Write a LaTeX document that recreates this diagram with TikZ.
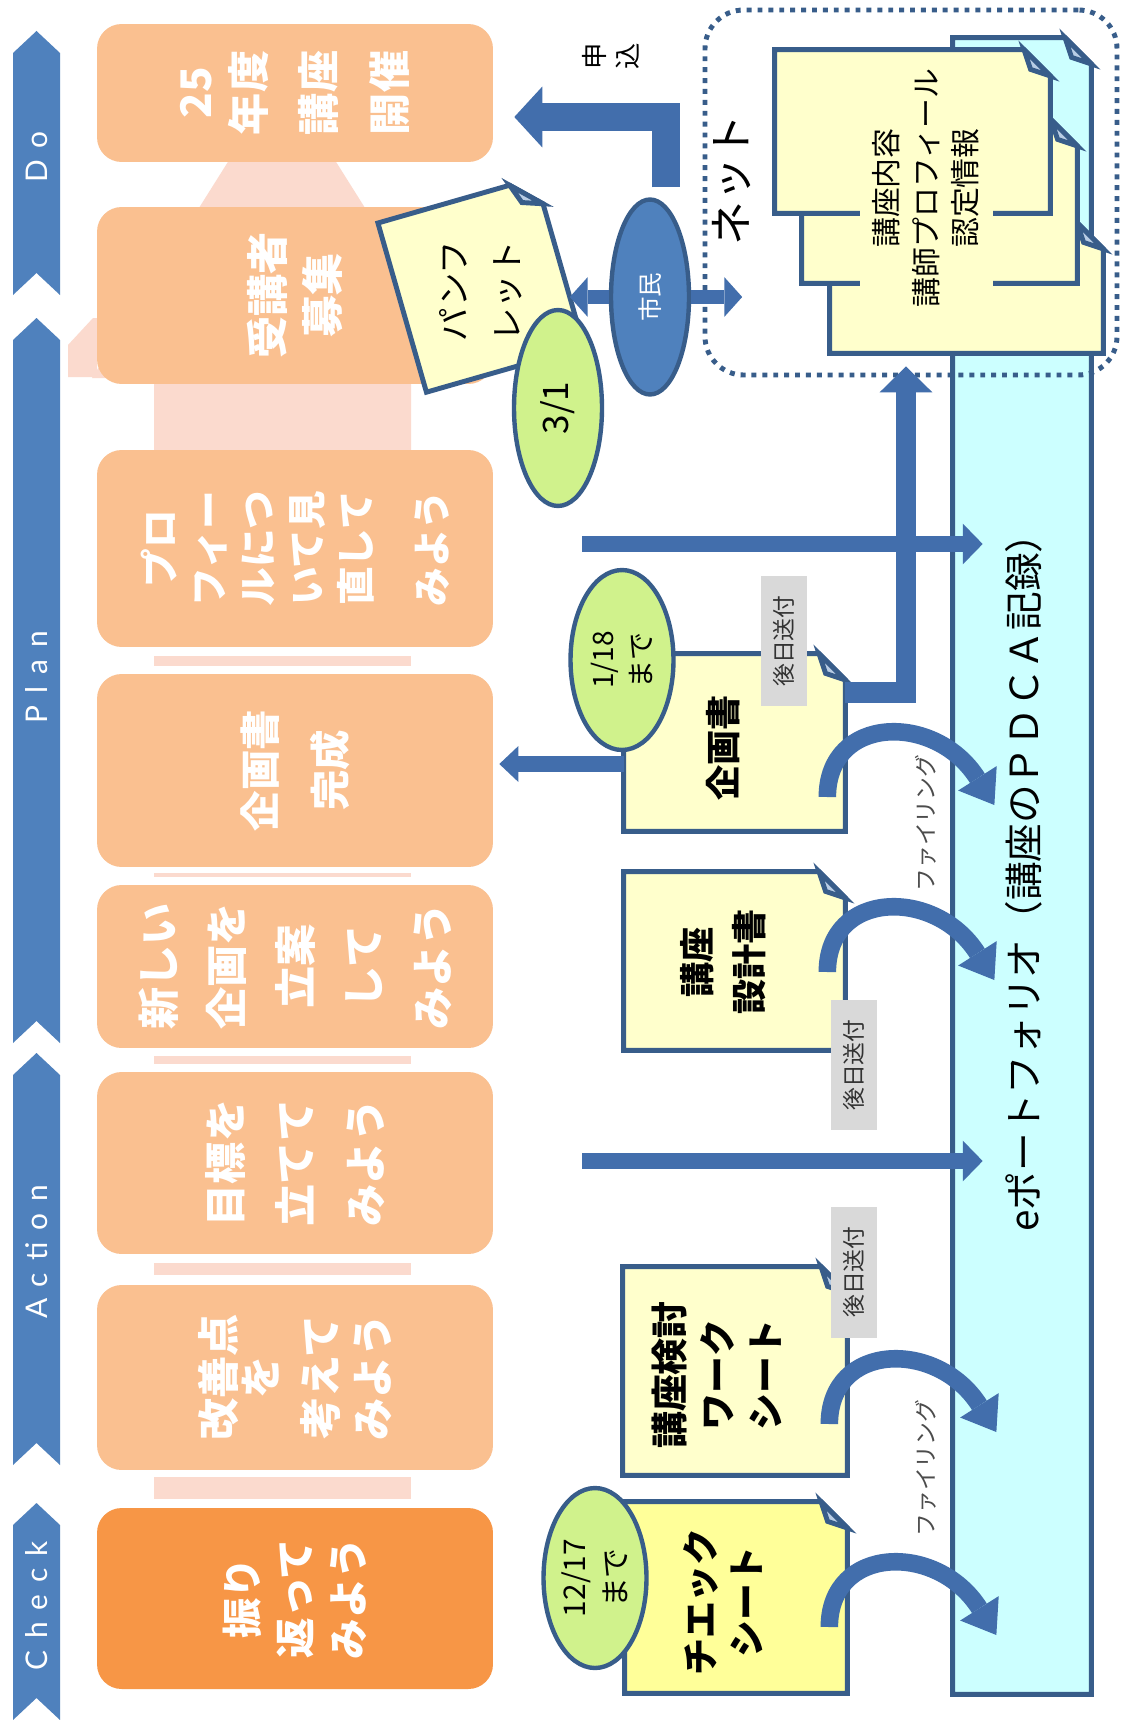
\documentclass[tikz,border=0pt]{standalone}
\usepackage{fontspec}
\newfontfamily\jp{Noto Sans CJK JP}
\newfontfamily\phasefont{Lato}[LetterSpace=40]
\usetikzlibrary{shapes.geometric, arrows.meta, fit, calc}

\definecolor{bandblue}{RGB}{79,129,189}
\definecolor{lineblue}{RGB}{56,93,138}
\definecolor{arrowblue}{RGB}{66,110,172}
\definecolor{boxorange}{RGB}{250,192,144}
\definecolor{checkorange}{RGB}{247,150,70}
\definecolor{palepink}{RGB}{251,218,206}
\definecolor{paperyellow}{RGB}{255,255,204}
\definecolor{sheetyellow}{RGB}{255,255,153}
\definecolor{datagreen}{RGB}{208,242,140}
\definecolor{portcyan}{RGB}{204,255,255}
\definecolor{flapblue}{RGB}{185,205,229}
\definecolor{labelgray}{RGB}{217,217,217}

\newlength\foldsize
\setlength\foldsize{15pt}

\tikzset{
    every node/.style={font=\jp},
    obox/.style={fill=boxorange, rounded corners=14pt, rotate=90, minimum height=7.92cm, inner sep=0pt, text=white, align=center},
    phase/.style={rotate=90, text=white, font=\phasefont\fontsize{17}{20}\selectfont},
    paperline/.style={draw=lineblue, line width=2.8pt, line join=miter},
    dateoval/.style={ellipse, draw=lineblue, line width=2.5pt, fill=datagreen, rotate=90, align=center, inner sep=0pt},
    latertag/.style={fill=labelgray, rotate=90, minimum width=2.62cm, minimum height=0.92cm, inner sep=0pt, text=black!80, font=\jp\fontsize{13}{15}\selectfont},
    papertext/.style={rotate=90, align=center},
    fatarrow/.style n args={3}{draw=arrowblue, line width=#1, line join=miter, arrows={-Triangle[width=#2, length=#3, line width=0pt]}},
    curvearrow/.style={draw=arrowblue, line width=10pt, arrows={-Triangle[width=26pt, length=18pt, line width=0pt]}},
    filing/.style={rotate=90, text=black!70, font=\jp\fontsize{13}{15}\selectfont},
    netbox/.style={draw=lineblue, line width=2.8pt, dash pattern=on 2.8pt off 3.4pt, rounded corners=22pt, inner sep=0pt},
}

% paper with a folded corner: name, corner, corner, fill
\newcommand{\foldpaper}[4]{%
  \node[fit={#2 #3}, inner sep=0pt] (#1) {};
  \draw[paperline, fill=#4] (#1.north west) -- ([xshift=-\foldsize]#1.north east) -- ([yshift=-\foldsize]#1.north east)
     -- (#1.south east) -- (#1.south west) -- cycle;
  \draw[paperline, fill=flapblue] ([xshift=-\foldsize]#1.north east) -- ([yshift=-\foldsize]#1.north east)
     -- ([xshift=-0.75*\foldsize, yshift=-0.75*\foldsize]#1.north east) -- cycle;
}

% filing arrow from a sheet into the portfolio
\newcommand{\filingarrow}[2]{%
  \draw[curvearrow, shift={(#1 |- 0,#2)}] (-18,0) .. controls (-18,-82) and (90,-85) .. (149,8);
}

\begin{document}
\begin{tikzpicture}[x=0.02cm, y=-0.02cm]
\useasboundingbox[fill=white] (0,0) rectangle (1125,1720);

% PDCA band
\foreach \ya/\yb/\yc/\lbl in {31/295/157/Do, 318/1043/677/Plan, 1053/1465/1252/Action, 1503/1720/1606/Check}{
  \fill[bandblue] (13,\ya+22) -- (36.5,\ya) -- (60,\ya+22) -- (60,\yb) -- (36.5,\yb-22) -- (13,\yb) -- cycle;
  \node[phase] (phase-\lbl) at (36.5,\yc) {\lbl};
}

% pale connectors behind the steps
\fill[palepink] (154,455) -- (154,378) -- (92,378) -- (282,76) -- (472,378) -- (411,378) -- (411,455) -- cycle;
\fill[palepink] (68,377) -- (68,345) -- (93,318) -- (97,318) -- (97,377) -- cycle;
\foreach \ya/\yb in {656/666, 873/877, 1056/1064, 1263/1275, 1477/1499}{
  \fill[palepink] (154,\ya) rectangle (411,\yb);
}

% steps
\foreach \n/\yc/\h/\fs/\bs/\col/\txt in {
  1/93/2.76cm/24/40/boxorange/{25\\[-10pt]年度\\講座\\開催},
  2/295.5/3.54cm/24/31/boxorange/{受講者\\募集},
  3/548.5/3.94cm/22/28/boxorange/{プロ\\フィー\\ルにつ\\いて見\\直して\\[15pt]みよう},
  4/770.5/3.86cm/23/40/boxorange/{企画書\\完成},
  5/966.5/3.26cm/24/39/boxorange/{新しい\\企画を\\立案\\して\\みよう},
  6/1163/3.64cm/24/40/boxorange/{目標を\\立てて\\みよう},
  7/1377.5/3.7cm/24/30/boxorange/{改善点\\[-6pt]を\\[4pt]考えて\\みよう},
  8/1598.5/3.62cm/23/30/checkorange/{振り\\返って\\みよう}}{
  \node[obox, fill=\col, minimum width=\h, font=\jp\bfseries\fontsize{\fs}{\bs}\selectfont] (box\n) at (295,\yc) {\txt};
}

% e-portfolio and web pages
\foldpaper{eport}{(953,38)}{(1091,1694)}{portcyan}
\node[rotate=90, font=\jp\fontsize{22}{26}\selectfont] (eportlabel) at (1024,873) {eポートフォリオ（講座のＰＤＣＡ記録）};

\foldpaper{web3}{(830,223)}{(1103,353)}{paperyellow}
\foldpaper{web2}{(802,120)}{(1077,283)}{paperyellow}
\foldpaper{web1}{(775,50)}{(1050,213)}{paperyellow}
\node[rotate=90, fill=paperyellow, minimum width=5.28cm, minimum height=2.66cm, align=center,
      font=\jp\fontsize{17}{22.5}\selectfont] (webtext) at (926,188) {講座内容\\講師プロフィール\\認定情報};

\node[netbox, fit={(705,10) (1117,375)}] (net) {};
\node[rotate=90, font=\jp\fontsize{25}{28}\selectfont] (netlabel) at (732,180) {ネット};
\node[rotate=90, align=center, font=\jp\fontsize{15}{19}\selectfont] (apply) at (611,56) {申\\込};

% pamphlet
\begin{scope}[shift={(481,285)}, rotate=16]
  \draw[paperline, fill=paperyellow] (-82,-88) -- (55,-88) -- (82,-61) -- (82,88) -- (-82,88) -- cycle;
  \draw[paperline, fill=flapblue] (55,-88) -- (82,-61) -- (62,-68) -- cycle;
  \node[rotate=90, align=center, font=\jp\fontsize{19}{30}\selectfont] (pamph) at (-2,6) {パンフ\\レット};
\end{scope}

\node[dateoval, minimum width=3.92cm, minimum height=1.76cm, font=\jp\fontsize{20}{22}\selectfont] (d31) at (558,408) {3/1};

% citizens
\node[ellipse, fill=bandblue, draw=lineblue, line width=2.5pt, rotate=90, minimum width=3.9cm, minimum height=1.56cm,
      inner sep=0pt, text=white, font=\jp\fontsize{14}{16}\selectfont] (shimin) at (650,297) {市民};
\draw[fatarrow={7.9pt}{22.7pt}{10.2pt}] (shimin.north) -- ($(shimin.north)+(-39,0)$);
\draw[fatarrow={7.9pt}{22.7pt}{10.2pt}] (shimin.south) -- ($(shimin.south)+(51,0)$);
\draw[fatarrow={16.4pt}{34.6pt}{15.9pt}] ($(shimin.east)+(16,-10)$) |- ($(box1.south)+(21,24)$);

% sheets
\foldpaper{kikaku}{(624,654)}{(845,831)}{paperyellow}
\foldpaper{sekkei}{(624,872)}{(845,1050)}{paperyellow}
\foldpaper{kento}{(623,1267)}{(847,1475)}{paperyellow}
\foldpaper{check}{(625,1502)}{(847,1693)}{sheetyellow}
\node[papertext, font=\jp\bfseries\fontsize{20}{28}\selectfont] (kikakutext) at (723,748) {企画書};
\node[papertext, font=\jp\bfseries\fontsize{20}{29.5}\selectfont] (sekkeitext) at (723,962) {講座\\設計書};
\node[papertext, font=\jp\bfseries\fontsize{21}{27.5}\selectfont] (kentotext) at (717,1375) {講座検討\\ワーク\\シート};
\node[papertext, font=\jp\bfseries\fontsize{21}{26.5}\selectfont] (checktext) at (723,1602) {チエック\\シート};

\draw[fatarrow={11.9pt}{30pt}{14.7pt}] ($(kikaku.north east)+(0,39)$) -| ($(net.south)+(-5,-11)$);
\draw[fatarrow={9.6pt}{23.2pt}{11.3pt}] ($(box3.south)+(89,-4.5)$) -- ($(box3.south -| eport.west)+(30,-4.5)$);
\draw[fatarrow={9.6pt}{23.2pt}{11.3pt}] ($(box6.south)+(89,-2)$) -- ($(box6.south -| eport.west)+(30,-2)$);
\draw[fatarrow={9pt}{20.4pt}{10.8pt}] ($(kikaku.west)+(0,21.5)$) -- ($(kikaku.west -| box4.south)+(6,21.5)$);

\node[dateoval, minimum width=3.6cm, minimum height=2.06cm, font=\jp\fontsize{16}{22}\selectfont] (d118) at (622,660) {1/18\\まで};
\node[dateoval, minimum width=3.6cm, minimum height=2.06cm, font=\jp\fontsize{17}{23}\selectfont] (d1217) at (595,1578) {12/17\\まで};

\node[latertag] (later1) at (784,641) {後日送付};
\node[latertag] (later2) at (854,1065) {後日送付};
\node[latertag] (later3) at (854,1272) {後日送付};

% filing
\filingarrow{kikaku.east}{797}
\filingarrow{sekkei.east}{972}
\filingarrow{kento.east}{1424}
\filingarrow{check.east}{1627}
\node[filing] (filing1) at (926,823) {ファイリング};
\node[filing] (filing2) at (926,1468) {ファイリング};

\end{tikzpicture}
\end{document}
